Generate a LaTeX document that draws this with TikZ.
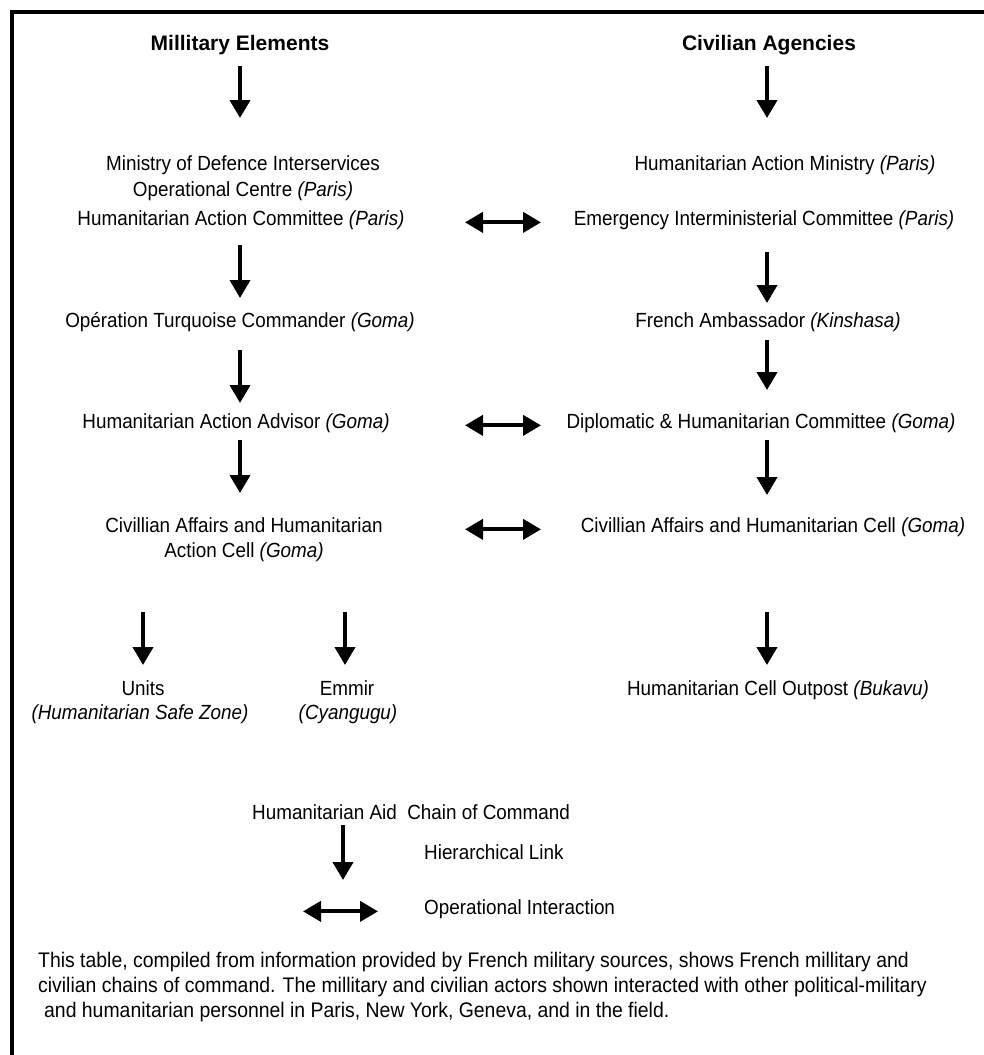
\documentclass[tikz,border=0pt]{standalone}
\usepackage{fontspec}
\setmainfont{Liberation Sans}[FakeStretch=0.92]
\newfontfamily\headfont{Liberation Sans}
\usetikzlibrary{arrows.meta}

\begin{document}
\begin{tikzpicture}[x=1pt, y=-1pt,
    every node/.style={font=\fontsize{20.5}{25}\selectfont, inner sep=0pt, anchor=base},
    head/.style={font=\headfont\fontsize{21}{25}\selectfont\bfseries},
    note/.style={anchor=base west, font=\fontsize{21.1}{25}\selectfont},
    hlink/.style={-{Triangle[width=20pt,length=18pt]}, line width=4pt},
    olink/.style={{Triangle[width=20pt,length=18pt]}-{Triangle[width=20pt,length=18pt]}, line width=4pt}]
          \useasboundingbox (0,0) rectangle (984,1055);
          \draw [line width=3.5pt] (984,12) -- (12,12) -- (12,1055);

          \coordinate (colM) at (240,0);
          \coordinate (colC) at (767,0);
          \coordinate (colU) at (143,0);
          \coordinate (colE) at (345,0);
          \coordinate (gapL) at (465,0);
          \coordinate (gapR) at (541,0);
          \coordinate (lgx) at (343,0);
          \coordinate (lgl) at (303,0);
          \coordinate (lgr) at (378,0);

          \node[head] (mhead) at (240,50) {Millitary Elements};
          \node[head] (chead) at (769,50) {Civilian Agencies};

          \node (moda) at (243,170) {Ministry of Defence Interservices};
          \node (modb) at (243,196) {Operational Centre \textit{(Paris)}};
          \node (hac) at (241,225) {Humanitarian Action Committee \textit{(Paris)}};
          \node (ham) at (785,170) {Humanitarian Action Ministry \textit{(Paris)}};
          \node (eic) at (764,225) {Emergency Interministerial Committee \textit{(Paris)}};

          \node (opt) at (240,327) {Opération Turquoise Commander \textit{(Goma)}};
          \node (amb) at (768,327) {French Ambassador \textit{(Kinshasa)}};

          \node (adv) at (236,428) {Humanitarian Action Advisor \textit{(Goma)}};
          \node (dhc) at (761,428) {Diplomatic \& Humanitarian Committee \textit{(Goma)}};

          \node (cama) at (244,532) {Civillian Affairs and Humanitarian};
          \node (camb) at (244,557) {Action Cell \textit{(Goma)}};
          \node (cac) at (773,532) {Civillian Affairs and Humanitarian Cell \textit{(Goma)}};

          \node (units) at (143,695) {Units};
          \node (unitsb) at (140,719) {\textit{(Humanitarian Safe Zone)}};
          \node (emmir) at (347,695) {Emmir};
          \node (emmirb) at (348,719) {\textit{(Cyangugu)}};
          \node (outp) at (778,695) {Humanitarian Cell Outpost \textit{(Bukavu)}};

          \node (legend) at (411,819) {Humanitarian Aid\ \ Chain of Command};
          \node[anchor=base west] (lhier) at (424,859) {Hierarchical Link};
          \node[anchor=base west] (lop) at (424,914) {Operational Interaction};

          \node[note] (notea) at (38,967) {This table, compiled from information provided by French military sources, shows French millitary and};
          \node[note] (noteb) at (38,992) {civilian chains of command. The millitary and civilian actors shown interacted with other political-military};
          \node[note] (notec) at (44,1017) {and humanitarian personnel in Paris, New York, Geneva, and in the field.};

          \draw [hlink, shorten <=16pt, shorten >=52pt] (colM |- mhead.base) -- (colM |- moda.base);
          \draw [hlink, shorten <=16pt, shorten >=52pt] (colC |- chead.base) -- (colC |- ham.base);
          \draw [hlink, shorten <=20pt, shorten >=29pt] (colM |- hac.base) -- (colM |- opt.base);
          \draw [hlink, shorten <=27pt, shorten >=24pt] (colC |- eic.base) -- (colC |- amb.base);
          \draw [hlink, shorten <=23pt, shorten >=25pt] (colM |- opt.base) -- (colM |- adv.base);
          \draw [hlink, shorten <=13pt, shorten >=38pt] (colC |- amb.base) -- (colC |- dhc.base);
          \draw [hlink, shorten <=12pt, shorten >=39pt] (colM |- adv.base) -- (colM |- cama.base);
          \draw [hlink, shorten <=12pt, shorten >=37pt] (colC |- dhc.base) -- (colC |- cac.base);
          \draw [hlink, shorten <=55pt, shorten >=30pt] (colU |- camb.base) -- (colU |- units.base);
          \draw [hlink, shorten <=55pt, shorten >=30pt] (colE |- camb.base) -- (colE |- emmir.base);
          \draw [hlink, shorten <=80pt, shorten >=30pt] (colC |- cac.base) -- (colC |- outp.base);

          \draw [olink] (gapL |- hac.mid) -- (gapR |- eic.mid);
          \draw [olink] (gapL |- adv.mid) -- (gapR |- dhc.mid);
          \draw [olink] (gapL |- cama.mid) -- (gapR |- cac.mid);

          \draw [hlink, shorten <=6pt, shorten >=34pt] (lgx |- legend.base) -- (lgx |- lop.base);
          \draw [olink] (lgl |- lop.mid) -- (lgr |- lop.mid);
        \end{tikzpicture}
\end{document}
